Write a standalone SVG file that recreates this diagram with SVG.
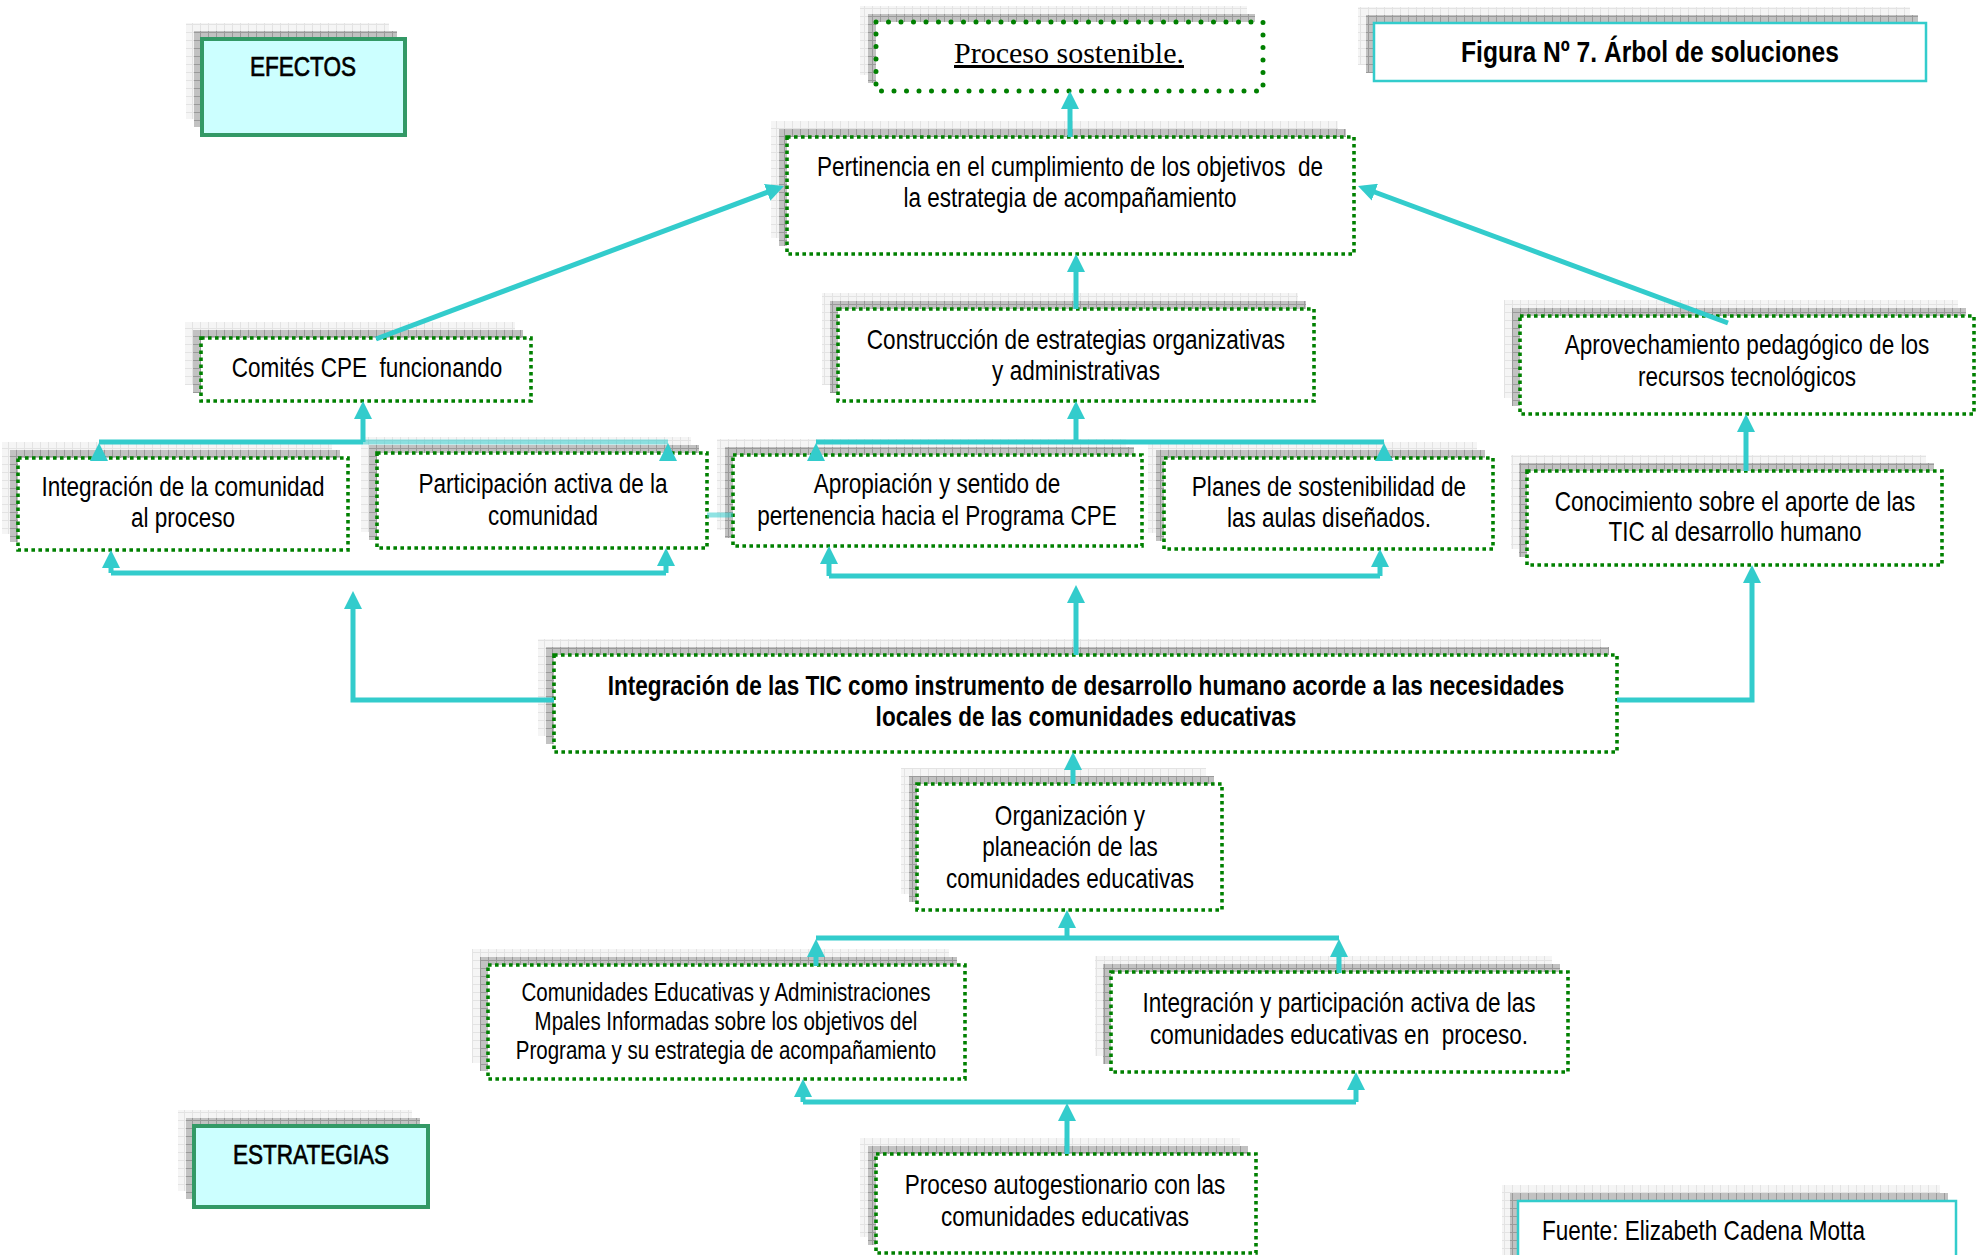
<svg xmlns="http://www.w3.org/2000/svg" width="1984" height="1255" viewBox="0 0 1984 1255">
<defs>
<pattern id="pd" width="8" height="8" patternUnits="userSpaceOnUse"><rect width="8" height="8" fill="#c2c2c2"/><path d="M0 .5H8M.5 0V8" stroke="#9a9a9a" stroke-width="1"/></pattern>
<pattern id="pl" width="8" height="8" patternUnits="userSpaceOnUse"><rect width="8" height="8" fill="#f5f5f5"/><path d="M0 .5H8M.5 0V8" stroke="#e3e3e3" stroke-width="1"/></pattern>
<marker id="ah" viewBox="0 0 18 18" refX="12" refY="9" markerWidth="18" markerHeight="18" markerUnits="userSpaceOnUse" orient="auto"><path d="M0 0L18 9L0 18Z" fill="#33CCCC"/></marker>
<style>
.sl{fill:url(#pl)}
.sd{fill:url(#pd)}
.box{fill:#fff;stroke:#008000;stroke-width:3.6;stroke-dasharray:3.6 3.4}
.boxr{fill:#fff;stroke:#008000;stroke-width:5;stroke-dasharray:0 12.5;stroke-linecap:round}
.lab{fill:#CCFFFF;stroke:#339966;stroke-width:4}
.cy{fill:#fff;stroke:#33CCCC;stroke-width:2.5}
.t{font-family:"Liberation Sans","Arial",sans-serif;font-size:27.5px;fill:#000;text-anchor:middle;white-space:pre}
.b{font-weight:bold}
.hv{stroke:#000;stroke-width:.7}
.s{font-size:25px}
.serif{font-family:"Liberation Serif","Times New Roman",serif;font-size:30px;text-decoration:underline;fill:#000;text-anchor:middle}
.c{fill:none;stroke:#33CCCC;stroke-width:5}
.ca{fill:none;stroke:#33CCCC;stroke-width:5;marker-end:url(#ah)}
.fade{opacity:.55}
</style>
</defs>
<rect width="1984" height="1255" fill="#fff"/>

<g id="efectos">
<rect class="sl" x="186" y="23" width="203" height="96"/><rect class="sd" x="194" y="31" width="203" height="96"/>
<rect class="lab" x="202" y="39" width="203" height="96"/>
<text class="t hv" transform="translate(303,76) scale(.82,1)">EFECTOS</text>
</g>

<g id="proceso-sostenible">
<rect class="sl" x="860" y="6" width="387" height="69"/><rect class="sd" x="868" y="14" width="387" height="69"/>
<rect class="boxr" x="876" y="22" width="387" height="69"/>
<text class="serif" x="1069" y="63">Proceso sostenible.</text>
</g>

<g id="figura">
<rect class="sl" x="1358" y="7" width="552" height="58"/><rect class="sd" x="1366" y="15" width="552" height="58"/>
<rect class="cy" x="1374" y="23" width="552" height="58"/>
<text class="t b" transform="translate(1650,62) scale(.82,1)" style="font-size:30px">Figura Nº 7. Árbol de soluciones</text>
</g>

<g id="pertinencia">
<rect class="sl" x="771" y="121" width="567" height="117"/><rect class="sd" x="779" y="129" width="567" height="117"/>
<rect class="box" x="787" y="137" width="567" height="117"/>
<text class="t" transform="translate(1070,176) scale(.82,1)">Pertinencia en el cumplimiento de los objetivos  de</text>
<text class="t" transform="translate(1070,207) scale(.82,1)">la estrategia de acompañamiento</text>
</g>

<g id="comites">
<rect class="sl" x="185" y="322" width="330" height="63"/><rect class="sd" x="193" y="330" width="330" height="63"/>
<rect class="box" x="201" y="338" width="330" height="63"/>
<text class="t" transform="translate(367,377) scale(.82,1)">Comités CPE  funcionando</text>
</g>

<g id="construccion">
<rect class="sl" x="822" y="293" width="476" height="92"/><rect class="sd" x="830" y="301" width="476" height="92"/>
<rect class="box" x="838" y="309" width="476" height="92"/>
<text class="t" transform="translate(1076,349) scale(.82,1)">Construcción de estrategias organizativas</text>
<text class="t" transform="translate(1076,380) scale(.82,1)">y administrativas</text>
</g>

<g id="aprovechamiento">
<rect class="sl" x="1504" y="300" width="454" height="98"/><rect class="sd" x="1512" y="308" width="454" height="98"/>
<rect class="box" x="1520" y="316" width="454" height="98"/>
<text class="t" transform="translate(1747,354) scale(.82,1)">Aprovechamiento pedagógico de los</text>
<text class="t" transform="translate(1747,386) scale(.82,1)">recursos tecnológicos</text>
</g>

<g id="integracion-comunidad">
<rect class="sl" x="2" y="442" width="330" height="92"/><rect class="sd" x="10" y="450" width="330" height="92"/>
<rect class="box" x="18" y="458" width="330" height="92"/>
<text class="t" transform="translate(183,496) scale(.82,1)">Integración de la comunidad</text>
<text class="t" transform="translate(183,527) scale(.82,1)">al proceso</text>
</g>

<g id="participacion">
<rect class="sl" x="361" y="437" width="330" height="95"/><rect class="sd" x="369" y="445" width="330" height="95"/>
<rect class="box" x="377" y="453" width="330" height="95"/>
<text class="t" transform="translate(543,493) scale(.82,1)">Participación activa de la</text>
<text class="t" transform="translate(543,525) scale(.82,1)">comunidad</text>
</g>

<g id="apropiacion">
<rect class="sl" x="717" y="439" width="409" height="91"/><rect class="sd" x="725" y="447" width="409" height="91"/>
<rect class="box" x="733" y="455" width="409" height="91"/>
<text class="t" transform="translate(937,493) scale(.82,1)">Apropiación y sentido de</text>
<text class="t" transform="translate(937,525) scale(.82,1)">pertenencia hacia el Programa CPE</text>
</g>

<g id="planes">
<rect class="sl" x="1148" y="442" width="329" height="91"/><rect class="sd" x="1156" y="450" width="329" height="91"/>
<rect class="box" x="1164" y="458" width="329" height="91"/>
<text class="t" transform="translate(1329,496) scale(.82,1)">Planes de sostenibilidad de</text>
<text class="t" transform="translate(1329,527) scale(.82,1)">las aulas diseñados.</text>
</g>

<g id="conocimiento">
<rect class="sl" x="1511" y="455" width="415" height="94"/><rect class="sd" x="1519" y="463" width="415" height="94"/>
<rect class="box" x="1527" y="471" width="415" height="94"/>
<text class="t" transform="translate(1735,511) scale(.82,1)">Conocimiento sobre el aporte de las</text>
<text class="t" transform="translate(1735,541) scale(.82,1)">TIC al desarrollo humano</text>
</g>

<g id="integracion-tic">
<rect class="sl" x="538" y="639" width="1063" height="97"/><rect class="sd" x="546" y="647" width="1063" height="97"/>
<rect class="box" x="554" y="655" width="1063" height="97"/>
<text class="t b" transform="translate(1086,695) scale(.82,1)">Integración de las TIC como instrumento de desarrollo humano acorde a las necesidades</text>
<text class="t b" transform="translate(1086,726) scale(.82,1)">locales de las comunidades educativas</text>
</g>

<g id="organizacion">
<rect class="sl" x="901" y="768" width="305" height="126"/><rect class="sd" x="909" y="776" width="305" height="126"/>
<rect class="box" x="917" y="784" width="305" height="126"/>
<text class="t" transform="translate(1070,825) scale(.82,1)">Organización y</text>
<text class="t" transform="translate(1070,856) scale(.82,1)">planeación de las</text>
<text class="t" transform="translate(1070,888) scale(.82,1)">comunidades educativas</text>
</g>

<g id="comunidades-informadas">
<rect class="sl" x="472" y="949" width="477" height="114"/><rect class="sd" x="480" y="957" width="477" height="114"/>
<rect class="box" x="488" y="965" width="477" height="114"/>
<text class="t s" transform="translate(726,1001) scale(.82,1)">Comunidades Educativas y Administraciones</text>
<text class="t s" transform="translate(726,1030) scale(.82,1)">Mpales Informadas sobre los objetivos del</text>
<text class="t s" transform="translate(726,1059) scale(.82,1)">Programa y su estrategia de acompañamiento</text>
</g>

<g id="integracion-participacion">
<rect class="sl" x="1095" y="956" width="457" height="100"/><rect class="sd" x="1103" y="964" width="457" height="100"/>
<rect class="box" x="1111" y="972" width="457" height="100"/>
<text class="t" transform="translate(1339,1012) scale(.82,1)">Integración y participación activa de las</text>
<text class="t" transform="translate(1339,1044) scale(.82,1)">comunidades educativas en  proceso.</text>
</g>

<g id="estrategias">
<rect class="sl" x="178" y="1110" width="234" height="81"/><rect class="sd" x="186" y="1118" width="234" height="81"/>
<rect class="lab" x="194" y="1126" width="234" height="81"/>
<text class="t hv" transform="translate(311,1164) scale(.82,1)">ESTRATEGIAS</text>
</g>

<g id="proceso-autogestionario">
<rect class="sl" x="860" y="1138" width="380" height="99"/><rect class="sd" x="868" y="1146" width="380" height="99"/>
<rect class="box" x="876" y="1154" width="380" height="99"/>
<text class="t" transform="translate(1065,1194) scale(.82,1)">Proceso autogestionario con las</text>
<text class="t" transform="translate(1065,1226) scale(.82,1)">comunidades educativas</text>
</g>

<g id="fuente">
<rect class="sl" x="1502" y="1185" width="438" height="90"/><rect class="sd" x="1510" y="1193" width="438" height="90"/>
<rect class="cy" x="1518" y="1201" width="438" height="90"/>
<text class="t" transform="translate(1542,1240) scale(.82,1)" style="text-anchor:start">Fuente: Elizabeth Cadena Motta</text>
</g>

<g id="connectors">
<path class="ca" d="M376,339 L778.4,188.1"/>
<path class="ca" d="M1728,323 L1363.6,188"/>
<path class="ca" d="M1070,137 V97"/>
<path class="ca" d="M1076,309 V260"/>
<path class="c" d="M99,442 H363"/>
<path class="c fade" d="M363,442 H668"/>
<path class="ca" d="M363,442 V407"/>
<path class="ca" d="M99,461 V449"/>
<path class="ca" d="M668,456 V449"/>
<path class="c" d="M111,573 H666"/>
<path class="ca" d="M111,573 V556"/>
<path class="ca" d="M666,573 V554"/>
<path class="ca" d="M554,700 H353 V597"/>
<path class="ca" d="M1617,700 H1752 V571"/>
<path class="ca" d="M1076,655 V591"/>
<path class="c" d="M829,576 H1380"/>
<path class="ca" d="M829,576 V552"/>
<path class="ca" d="M1380,576 V555"/>
<path class="c" d="M816,442 H1384"/>
<path class="ca" d="M1076,442 V407"/>
<path class="ca" d="M816,456 V449"/>
<path class="ca" d="M1384,459 V449"/>
<path class="c fade" d="M707,515 H733"/>
<path class="ca" d="M1746,471 V420"/>
<path class="ca" d="M1073,784 V758"/>
<path class="c" d="M816,938 H1339"/>
<path class="ca" d="M1067,938 V916"/>
<path class="ca" d="M816,966 V945"/>
<path class="ca" d="M1339,973 V945"/>
<path class="c" d="M803,1102 H1356"/>
<path class="ca" d="M803,1102 V1085"/>
<path class="ca" d="M1356,1102 V1078"/>
<path class="ca" d="M1067,1154 V1109"/>
</g>
</svg>
